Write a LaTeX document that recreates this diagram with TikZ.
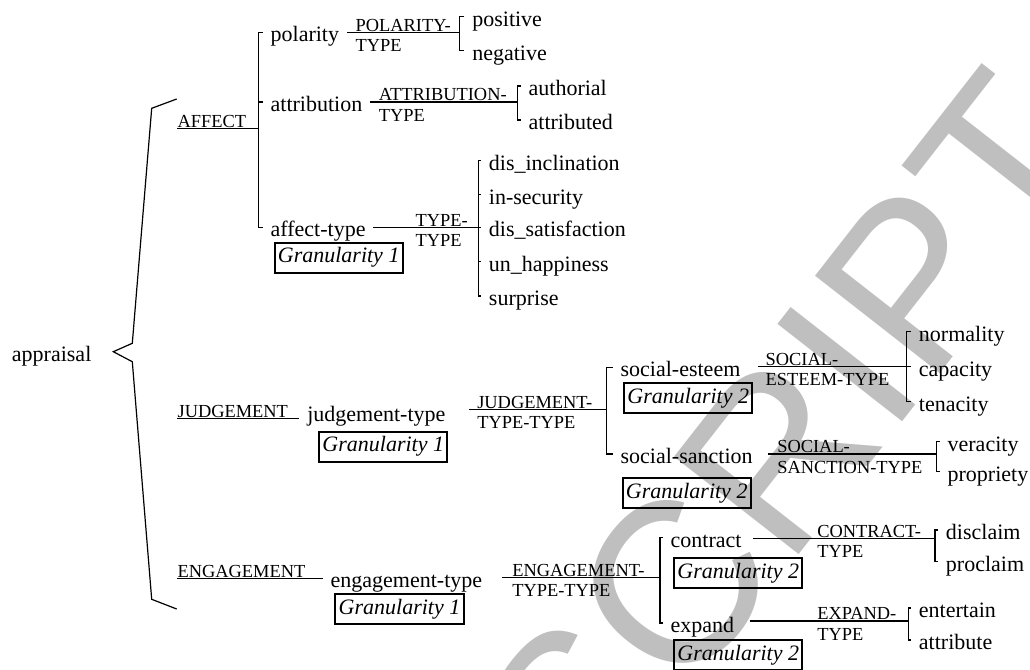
\documentclass[tikz,border=0pt]{standalone}
\usepackage{fontspec}
\setmainfont{Liberation Serif}
\setsansfont{Liberation Sans}
\usepackage{tikz}

\begin{document}
\begin{tikzpicture}[x=0.5pt,y=-0.5pt,line width=0.6pt,
        term/.style={anchor=west, inner sep=3.67pt, text height=10pt, text depth=0.5pt,
                        font=\fontsize{11pt}{13pt}\selectfont},
        feat/.style={anchor=north west, yshift=6.9pt, inner sep=0pt, align=left,
                        font=\fontsize{9.2pt}{10.1pt}\selectfont},
        sys/.style={anchor=south west, inner sep=0pt, text depth=0pt,
                        font=\fontsize{9.2pt}{10.1pt}\selectfont},
        gran/.style={draw, line width=1pt, inner xsep=1.6pt, inner ysep=2.5pt,
                        font=\fontsize{11pt}{13pt}\selectfont\itshape}]
    \useasboundingbox (0,0) rectangle (1030,670);
    \node[anchor=base west, rotate=52, inner sep=0pt, text=black!25,
          font=\sffamily\fontsize{115pt}{115pt}\selectfont] (stamp) at (590,822) {SCRIPT};

    \node[term, anchor=east] (appraisal) at (99.3,352) {appraisal};
    \draw (176.7,99) -- (151.7,108.3) -- (132.3,343.3) -- (113.3,351.7)
          -- (132.3,361.7) -- (151.7,599.3) -- (176.7,609);

    % affect
    \node[sys] (affect) at (177,128.3) {AFFECT};
    \coordinate (affbr) at (258.3,128.3);
    \node[term] (polarity) at (262.7,32.3) {polarity};
    \node[term] (attribution) at (262.7,102) {attribution};
    \node[term] (affecttype) at (262.7,227.3) {affect-type};
    \node[gran] (affgran) at (338.7,257.7) {Granularity 1};
    \draw (affect.south west) -- (affbr);
    \draw (polarity.west) -| (affbr) |- (affecttype.west);
    \draw (affbr |- attribution.west) -- (attribution.west);

    \node[feat] (poltype) at (355,32.3) {POLARITY-\\TYPE};
    \coordinate (polbr) at (459.3,32.3);
    \node[term] (positive) at (464.4,16.7) {positive};
    \node[term] (negative) at (464.4,50.7) {negative};
    \draw (polarity.east) -- (polbr);
    \draw (positive.west) -| (polbr) |- (negative.west);

    \node[feat] (atttype) at (378.3,102) {ATTRIBUTION-\\TYPE};
    \coordinate (attbr) at (517.3,102);
    \node[term] (authorial) at (520.7,86) {authorial};
    \node[term] (attributed) at (520.7,120) {attributed};
    \draw (attribution.east) -- (attbr);
    \draw (authorial.west) -| (attbr) |- (attributed.west);

    \node[feat] (typetype) at (415,227.3) {TYPE-\\TYPE};
    \coordinate (typebr) at (478.3,227.3);
    \node[term] (inclination) at (481,160.7) {dis\_inclination};
    \node[term] (insecurity) at (481,194.5) {in-security};
    \node[term] (satisfaction) at (481,227.3) {dis\_satisfaction};
    \node[term] (happiness) at (481,261.5) {un\_happiness};
    \node[term] (surprise) at (481,296) {surprise};
    \draw (affecttype.east) -- (typebr);
    \draw (inclination.west) -| (typebr) |- (surprise.west);
    \draw (typebr |- insecurity.west) -- (insecurity.west);
    \draw (typebr) -- (satisfaction.west);
    \draw (typebr |- happiness.west) -- (happiness.west);

    % judgement
    \node[sys] (judgement) at (177,418.3) {JUDGEMENT};
    \node[term] (judgementtype) at (299.4,411.5) {judgement-type};
    \node[gran] (judgran) at (383.3,446.7) {Granularity 1};
    \draw (judgement.south west) -- (judgement.south west -| judgementtype.west);

    \node[feat] (judtype) at (476.7,409.3) {JUDGEMENT-\\TYPE-TYPE};
    \coordinate (judbr) at (606.7,409.3);
    \node[term] (esteem) at (612.7,367.3) {social-esteem};
    \node[term] (sanction) at (612.7,454) {social-sanction};
    \node[gran] (estgran) at (688.3,398.3) {Granularity 2};
    \node[gran] (sangran) at (686.7,493.3) {Granularity 2};
    \draw[shorten <=8pt] (judgementtype.east |- judbr) -- (judbr);
    \draw (esteem.west) -| (judbr) |- (sanction.west);

    \node[feat] (esttype) at (765,366.7) {SOCIAL-\\ESTEEM-TYPE};
    \coordinate (estbr) at (906.7,366.7);
    \node[term] (normality) at (911,331.7) {normality};
    \node[term] (capacity) at (911,366.7) {capacity};
    \node[term] (tenacity) at (911,401.7) {tenacity};
    \draw[shorten <=4.7pt] (esteem.east |- estbr) -- (estbr);
    \draw (normality.west) -| (estbr) |- (tenacity.west);
    \draw (estbr) -- (capacity.west);

    \node[feat] (santype) at (776.7,454) {SOCIAL-\\SANCTION-TYPE};
    \coordinate (sanbr) at (936.7,454);
    \node[term] (veracity) at (939.7,441.7) {veracity};
    \node[term] (propriety) at (939.7,471.7) {propriety};
    \draw[shorten <=3.9pt] (sanction.east |- sanbr) -- (sanbr);
    \draw (veracity.west) -| (sanbr) |- (propriety.west);

    % engagement
    \node[sys] (engagement) at (177,578.3) {ENGAGEMENT};
    \node[term] (engagementtype) at (322.7,577.5) {engagement-type};
    \node[gran] (enggran) at (399.5,609.3) {Granularity 1};
    \draw (engagement.south west) -- (engagement.south west -| engagementtype.west);

    \node[feat] (engtype) at (511.7,577.7) {ENGAGEMENT-\\TYPE-TYPE};
    \coordinate (engbr) at (660,577.7);
    \node[term] (contract) at (662.7,537.7) {contract};
    \node[term] (expand) at (662.7,623) {expand};
    \node[gran] (congran) at (738.3,573) {Granularity 2};
    \node[gran] (expgran) at (738.3,655) {Granularity 2};
    \draw[shorten <=5.8pt] (engagementtype.east |- engbr) -- (engbr);
    \draw (contract.west) -| (engbr) |- (expand.west);

    \node[feat] (contype) at (816.7,538.3) {CONTRACT-\\TYPE};
    \coordinate (conbr) at (935,538.3);
    \node[term] (disclaim) at (938,530) {disclaim};
    \node[term] (proclaim) at (938,561.7) {proclaim};
    \draw[shorten <=2pt] (contract.east |- conbr) -- (conbr);
    \draw (disclaim.west) -| (conbr) |- (proclaim.west);

    \node[feat] (exptype) at (816.7,621) {EXPAND-\\TYPE};
    \coordinate (expbr) at (908.3,621);
    \node[term] (entertain) at (911,608) {entertain};
    \node[term] (attribute) at (911,640) {attribute};
    \draw[shorten <=3.9pt] (expand.east |- expbr) -- (expbr);
    \draw (entertain.west) -| (expbr) |- (attribute.west);
\end{tikzpicture}
\end{document}
